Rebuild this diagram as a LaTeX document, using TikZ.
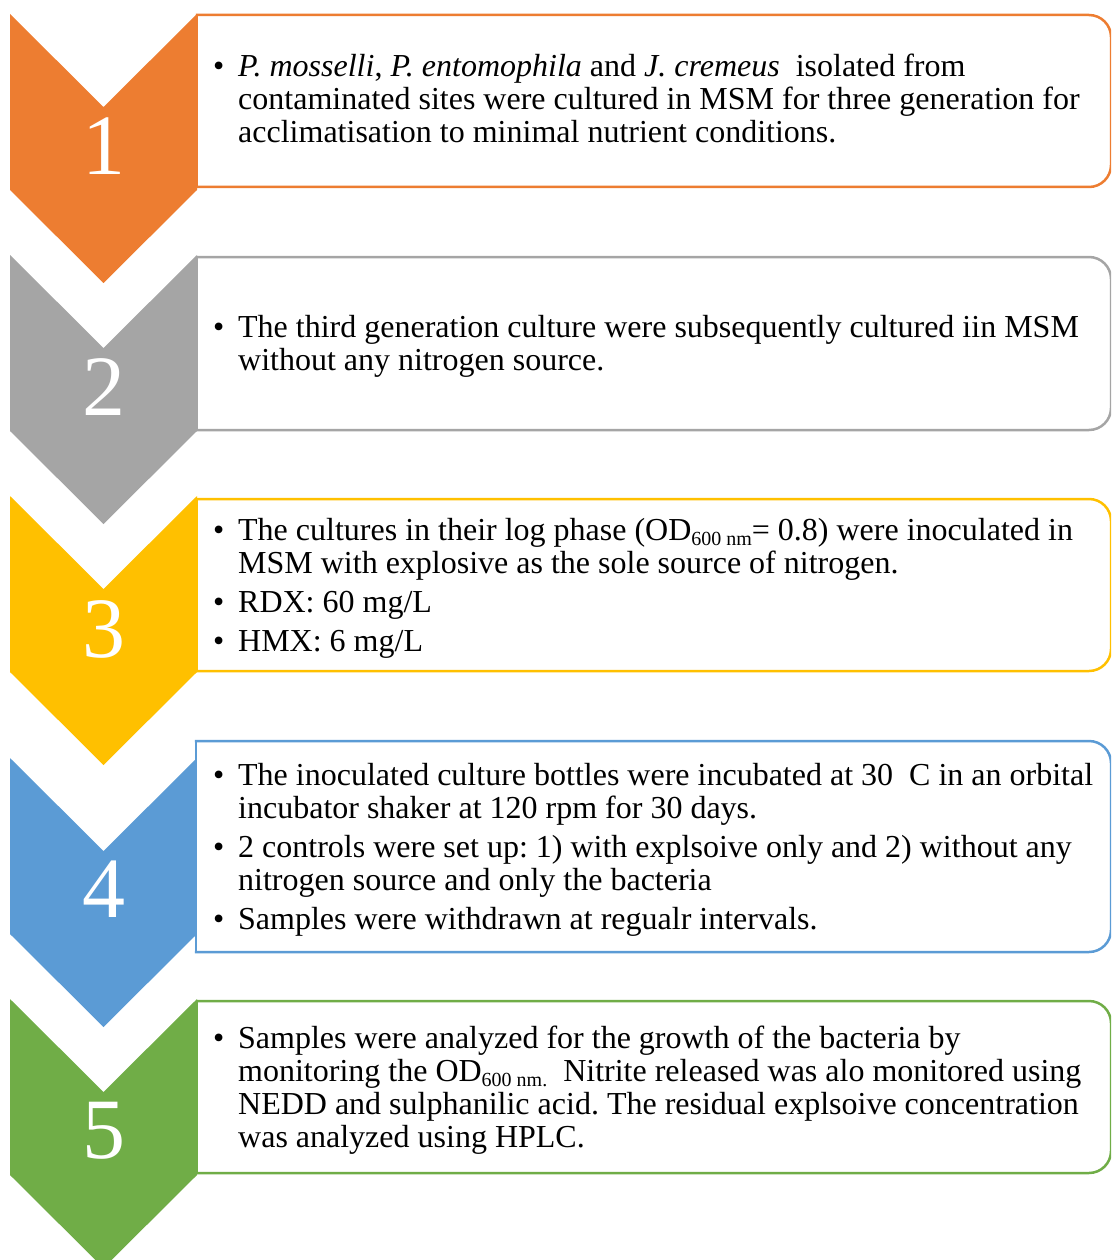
\documentclass[tikz,border=0pt]{standalone}
\usepackage{fontspec}
\setmainfont{Liberation Serif}
\frenchspacing
\definecolor{cOrange}{HTML}{ED7D31}
\definecolor{cGray}{HTML}{A5A5A5}
\definecolor{cYellow}{HTML}{FFC000}
\definecolor{cBlue}{HTML}{5B9BD5}
\definecolor{cGreen}{HTML}{70AD47}
\newcommand\chev[2]{% color, top y
  \fill[#1] (10,#2) -- (103.5,#2+93) -- (197,#2) -- (197,#2+176) -- (103.5,#2+269) -- (10,#2+176) -- cycle;}
\newcommand\stepbox[4]{% color, left, top, bottom
  \fill[white,rounded corners=22pt] (#2,#3) rectangle (1111,#4);
  \fill[white] (#2,#3) rectangle (1000,#4);
  \draw[#1,boxline,rounded corners=22pt] (#2,#3) -- (1111,#3) -- (1111,#4) -- (#2,#4);
  \draw[#1,boxline] (#2,#3) -- (#2,#4);}
\newcommand\bl{\makebox[25pt][l]{\textbullet}}
\newcommand\sbs[1]{\raisebox{-5pt}{\fontsize{20}{20}\selectfont #1}}
\tikzset{
  boxline/.style={line width=2.5pt,line cap=rect},
  num/.style={text=white,inner sep=0pt,font=\fontsize{86}{86}\selectfont},
  txt/.style={anchor=base west,inner sep=0pt,align=left,font=\fontsize{32}{33}\selectfont}
}
\begin{document}
\begin{tikzpicture}[x=1pt,y=-1pt]
\useasboundingbox (0,0) rectangle (1111,1260);
\clip (0,0) rectangle (1111,1260);
% chevrons
\chev{cOrange}{14}
\chev{cGray}{255}
\chev{cYellow}{496}
\chev{cBlue}{758}
\chev{cGreen}{999}
% boxes
\stepbox{cOrange}{197}{15}{187}
\stepbox{cGray}{197}{257}{430}
\stepbox{cYellow}{197}{499}{671}
\stepbox{cBlue}{196}{741}{952}
\stepbox{cGreen}{197}{1001}{1173}
% numbers
\node[num] (n1) at (103.5,146) {1};
\node[num] (n2) at (103.5,387) {2};
\node[num] (n3) at (103.5,629) {3};
\node[num] (n4) at (103.5,889) {4};
\node[num] (n5) at (103.5,1131) {5};
% texts
\node[txt] (t1) at (213,77) {\begin{tabular}[t]{@{}l@{}l@{}}
\bl & \textit{P. mosselli}, \textit{P. entomophila} and \textit{J. cremeus}\ \ isolated from\\
 & contaminated sites were cultured in MSM for three generation for\\
 & acclimatisation to minimal nutrient conditions.
\end{tabular}};
\node[txt] (t2) at (213,337) {\begin{tabular}[t]{@{}l@{}l@{}}
\bl & The third generation culture were subsequently cultured iin MSM\\
 & without any nitrogen source.
\end{tabular}};
\node[txt] (t3) at (213,540) {\begin{tabular}[t]{@{}l@{}l@{}}
\bl & The cultures in their log phase (OD\sbs{600 nm}= 0.8) were inoculated in\\
 & MSM with explosive as the sole source of nitrogen.\\[6pt]
\bl & RDX: 60 mg/L\\[6pt]
\bl & HMX: 6 mg/L
\end{tabular}};
\node[txt] (t4) at (213,785) {\begin{tabular}[t]{@{}l@{}l@{}}
\bl & The inoculated culture bottles were incubated at 30\ \ C in an orbital\\
 & incubator shaker at 120 rpm for 30 days.\\[6pt]
\bl & 2 controls were set up: 1) with explsoive only and 2) without any\\
 & nitrogen source and only the bacteria\\[6pt]
\bl & Samples were withdrawn at regualr intervals.
\end{tabular}};
\node[txt] (t5) at (213,1048) {\begin{tabular}[t]{@{}l@{}l@{}}
\bl & Samples were analyzed for the growth of the bacteria by\\
 & monitoring the OD\sbs{600 nm.}\ \ Nitrite released was alo monitored using\\
 & NEDD and sulphanilic acid. The residual explsoive concentration\\
 & was analyzed using HPLC.
\end{tabular}};
\end{tikzpicture}
\end{document}
